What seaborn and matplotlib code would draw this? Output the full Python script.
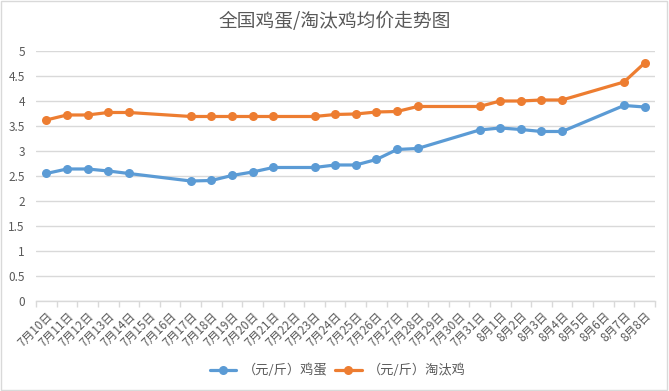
import matplotlib.pyplot as plt
import pandas as pd
import seaborn as sns
from matplotlib.patches import Rectangle
from matplotlib.ticker import FixedLocator

# all days on the axis (category labels)
days = ['7月10日', '7月11日', '7月12日', '7月13日', '7月14日', '7月15日', '7月16日',
        '7月17日', '7月18日', '7月19日', '7月20日', '7月21日', '7月22日', '7月23日',
        '7月24日', '7月25日', '7月26日', '7月27日', '7月28日', '7月29日', '7月30日',
        '7月31日', '8月1日', '8月2日', '8月3日', '8月4日', '8月5日', '8月6日',
        '8月7日', '8月8日']

# days that have a price
price_days = ['7月10日', '7月11日', '7月12日', '7月13日', '7月14日',
              '7月17日', '7月18日', '7月19日', '7月20日', '7月21日',
              '7月23日', '7月24日', '7月25日', '7月26日', '7月27日', '7月28日',
              '7月31日', '8月1日', '8月2日', '8月3日', '8月4日',
              '8月7日', '8月8日']

egg = [2.55, 2.64, 2.64, 2.60, 2.55,
       2.40, 2.41, 2.51, 2.58, 2.67,
       2.67, 2.72, 2.72, 2.83, 3.03, 3.05,
       3.42, 3.46, 3.43, 3.39, 3.39,
       3.91, 3.88]

hen = [3.62, 3.72, 3.72, 3.77, 3.77,
       3.69, 3.69, 3.69, 3.69, 3.69,
       3.69, 3.73, 3.74, 3.78, 3.79, 3.89,
       3.89, 4.00, 4.00, 4.02, 4.02,
       4.38, 4.76]

series_names = ['（元/斤）鸡蛋', '（元/斤）淘汰鸡']
colors = ['#5B9BD5', '#ED7D31']
title = '全国鸡蛋/淘汰鸡均价走势图'

sns.set_theme(style='white')
plt.rcParams['font.family'] = ['Noto Sans CJK SC', 'DejaVu Sans']

pos = [days.index(d) for d in price_days]
df = pd.DataFrame({
    'x': pos * 2,
    'price': egg + hen,
    'series': [series_names[0]] * len(egg) + [series_names[1]] * len(hen),
})

fig = plt.figure(figsize=(6.69, 3.91), dpi=100)
ax = fig.add_axes([0.0538, 0.2302, 0.9252, 0.6394])

sns.lineplot(data=df, x='x', y='price', hue='series', palette=colors,
             marker='o', markersize=6.5, markeredgewidth=0, linewidth=2.3,
             ax=ax)

text_color = '#595959'
grid_color = '#D9D9D9'

ax.set_xlim(-0.5, len(days) - 0.5)
ax.set_ylim(0, 5)
ax.set_yticks([0, 0.5, 1, 1.5, 2, 2.5, 3, 3.5, 4, 4.5, 5])
ax.set_yticklabels(['0', '0.5', '1', '1.5', '2', '2.5', '3', '3.5', '4', '4.5', '5'])
ax.yaxis.grid(True, color=grid_color, linewidth=1)
ax.set_axisbelow(True)

ax.set_xticks(range(len(days)))
ax.set_xticklabels(days, rotation=45, ha='right', rotation_mode='anchor')
ax.xaxis.set_minor_locator(FixedLocator([i - 0.5 for i in range(len(days) + 1)]))
ax.tick_params(axis='x', which='major', length=0, pad=6, labelsize=8.5, labelcolor=text_color)
ax.tick_params(axis='x', which='minor', length=4, color=grid_color, width=1, bottom=True)
ax.tick_params(axis='y', length=0, pad=8, labelsize=8.5, labelcolor=text_color)

for side in ['top', 'right', 'left']:
    ax.spines[side].set_visible(False)
ax.spines['bottom'].set_color(grid_color)
ax.spines['bottom'].set_linewidth(1)

ax.set_xlabel('')
ax.set_ylabel('')

fig.text(0.5, 0.945, title, ha='center', va='center', fontsize=13.5, color=text_color)

ax.legend(title=None, loc='center', bbox_to_anchor=(0.505, 0.052),
          bbox_transform=fig.transFigure, ncol=2, frameon=False,
          fontsize=9.5, handlelength=2.0, handletextpad=0.5, columnspacing=0.6,
          labelcolor=text_color)

fig.patches.append(Rectangle((0.001, 0.002), 0.996, 0.995, transform=fig.transFigure,
                             fill=False, edgecolor=grid_color, linewidth=1))

fig.savefig('out.png', dpi=100)
